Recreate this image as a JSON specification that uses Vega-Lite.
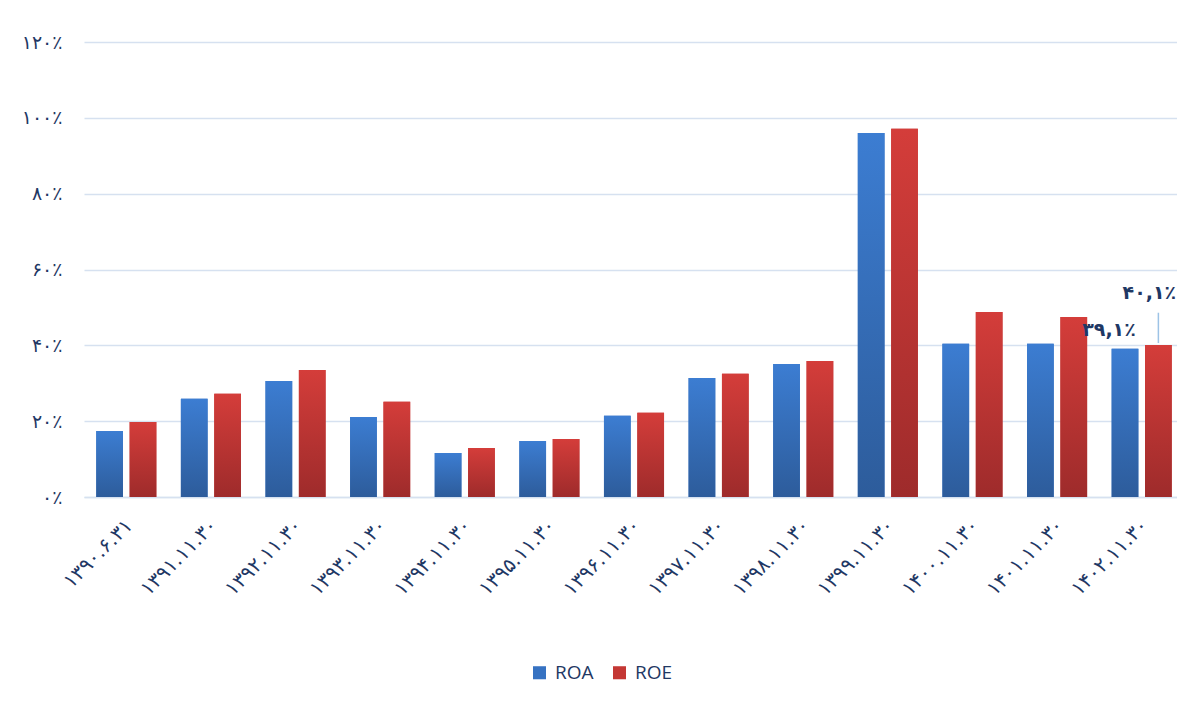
{
  "$schema": "https://vega.github.io/schema/vega-lite/v6.json",
  "autosize": {"type": "none"},
  "width": 1100,
  "height": 455,
  "padding": {"left": 84, "top": 42, "right": 0, "bottom": 212},
  "background": "#ffffff",
  "config": {
    "view": {"stroke": null},
    "font": "DejaVu Sans"
  },
  "data": {
    "values": [
      {"period": "۱۳۹۰.۶.۳۱", "series": "ROA", "value": 17.4},
      {"period": "۱۳۹۰.۶.۳۱", "series": "ROE", "value": 19.8},
      {"period": "۱۳۹۱.۱۱.۳۰", "series": "ROA", "value": 25.9},
      {"period": "۱۳۹۱.۱۱.۳۰", "series": "ROE", "value": 27.2},
      {"period": "۱۳۹۲.۱۱.۳۰", "series": "ROA", "value": 30.6},
      {"period": "۱۳۹۲.۱۱.۳۰", "series": "ROE", "value": 33.5},
      {"period": "۱۳۹۳.۱۱.۳۰", "series": "ROA", "value": 21.1},
      {"period": "۱۳۹۳.۱۱.۳۰", "series": "ROE", "value": 25.1},
      {"period": "۱۳۹۴.۱۱.۳۰", "series": "ROA", "value": 11.6},
      {"period": "۱۳۹۴.۱۱.۳۰", "series": "ROE", "value": 12.9},
      {"period": "۱۳۹۵.۱۱.۳۰", "series": "ROA", "value": 14.8},
      {"period": "۱۳۹۵.۱۱.۳۰", "series": "ROE", "value": 15.3},
      {"period": "۱۳۹۶.۱۱.۳۰", "series": "ROA", "value": 21.4},
      {"period": "۱۳۹۶.۱۱.۳۰", "series": "ROE", "value": 22.2},
      {"period": "۱۳۹۷.۱۱.۳۰", "series": "ROA", "value": 31.4},
      {"period": "۱۳۹۷.۱۱.۳۰", "series": "ROE", "value": 32.5},
      {"period": "۱۳۹۸.۱۱.۳۰", "series": "ROA", "value": 35.1},
      {"period": "۱۳۹۸.۱۱.۳۰", "series": "ROE", "value": 35.9},
      {"period": "۱۳۹۹.۱۱.۳۰", "series": "ROA", "value": 96.0},
      {"period": "۱۳۹۹.۱۱.۳۰", "series": "ROE", "value": 97.1},
      {"period": "۱۴۰۰.۱۱.۳۰", "series": "ROA", "value": 40.4},
      {"period": "۱۴۰۰.۱۱.۳۰", "series": "ROE", "value": 48.8},
      {"period": "۱۴۰۱.۱۱.۳۰", "series": "ROA", "value": 40.4},
      {"period": "۱۴۰۱.۱۱.۳۰", "series": "ROE", "value": 47.5},
      {"period": "۱۴۰۲.۱۱.۳۰", "series": "ROA", "value": 39.1, "label": "۳۹,۱٪"},
      {"period": "۱۴۰۲.۱۱.۳۰", "series": "ROE", "value": 40.1, "label": "۴۰,۱٪"}
    ]
  },
  "encoding": {
    "x": {
      "field": "period",
      "type": "nominal",
      "sort": null,
      "scale": {"paddingInner": 0.29, "paddingOuter": 0.145},
      "axis": {
        "title": null,
        "labelAngle": -45,
        "labelFontSize": 20,
        "labelColor": "#1f3864",
        "labelPadding": 18,
        "labelOffset": -4,
        "ticks": false,
        "domain": true,
        "domainColor": "#d6e1f0",
        "domainWidth": 1.5
      }
    },
    "xOffset": {
      "field": "series",
      "type": "nominal",
      "scale": {"paddingInner": 0.2, "paddingOuter": 0}
    },
    "y": {
      "field": "value",
      "type": "quantitative",
      "scale": {"domain": [0, 120], "nice": false},
      "axis": {
        "title": null,
        "values": [0, 20, 40, 60, 80, 100, 120],
        "labelExpr": "{'0':'۰٪','20':'۲۰٪','40':'۴۰٪','60':'۶۰٪','80':'۸۰٪','100':'۱۰۰٪','120':'۱۲۰٪'}[datum.label]",
        "labelFontSize": 19,
        "labelColor": "#1f3864",
        "labelPadding": 22,
        "ticks": false,
        "domain": false,
        "grid": true,
        "gridColor": "#d6e1f0",
        "gridWidth": 1.5
      }
    }
  },
  "layer": [
    {
      "mark": {"type": "bar"},
      "encoding": {
        "color": {
          "field": "series",
          "type": "nominal",
          "scale": {"domain": ["ROA", "ROE"], "range": ["#3672c2", "#c43734"]},
          "legend": {
            "title": null,
            "orient": "none",
            "direction": "horizontal",
            "legendX": 446,
            "legendY": 621,
            "symbolType": "square",
            "symbolSize": 170,
            "labelFontSize": 19,
            "labelFont": "Open Sans",
            "labelColor": "#1f3864",
            "columnPadding": 16,
            "labelOffset": 6
          }
        }
      }
    },
    {
      "mark": {"type": "bar"},
      "encoding": {
        "fill": {
          "condition": {
            "test": "datum.series === 'ROA'",
            "value": {"gradient": "linear", "x1": 0, "y1": 0, "x2": 0, "y2": 1, "stops": [{"offset": 0, "color": "#3c7dd2"}, {"offset": 1, "color": "#2d5c9b"}]}
          },
          "value": {"gradient": "linear", "x1": 0, "y1": 0, "x2": 0, "y2": 1, "stops": [{"offset": 0, "color": "#d43d3a"}, {"offset": 1, "color": "#9e2b2b"}]}
        }
      }
    },
    {
      "transform": [{"filter": "datum.series === 'ROE' && datum.label"}],
      "mark": {"type": "rule", "color": "#9dc3e6", "strokeWidth": 1.5},
      "encoding": {
        "y": {"datum": 40.6},
        "y2": {"datum": 48.6}
      }
    },
    {
      "transform": [{"filter": "datum.series === 'ROA' && datum.label"}],
      "mark": {"type": "text", "fontSize": 19, "fontWeight": "bold", "color": "#1f3864", "dx": -16, "dy": -19},
      "encoding": {"text": {"field": "label"}}
    },
    {
      "transform": [{"filter": "datum.series === 'ROE' && datum.label"}],
      "mark": {"type": "text", "fontSize": 19, "fontWeight": "bold", "color": "#1f3864", "dx": -9, "dy": -52},
      "encoding": {"text": {"field": "label"}}
    }
  ]
}
